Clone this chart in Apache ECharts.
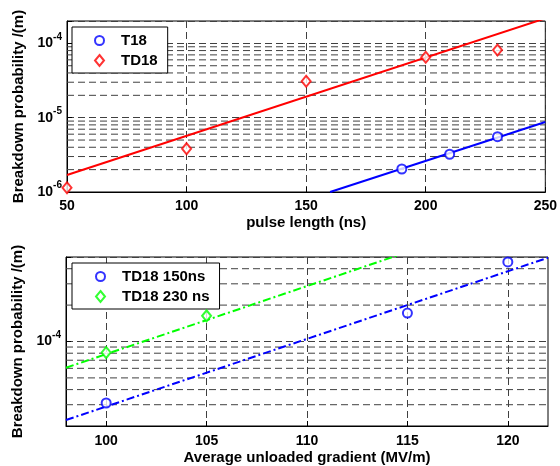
<!DOCTYPE html>
<html>
<head>
<meta charset="utf-8">
<title>Breakdown probability</title>
<style>
html, body { margin: 0; padding: 0; background: #fff; }
#chart { width: 560px; height: 466px; }
</style>
</head>
<body>
<div id="chart"></div>
<script src="https://cdn.jsdelivr.net/npm/echarts@6/dist/echarts.min.js"></script>
<script>
// top panel: breakdown probability vs pulse length
var t18X = [190, 210, 230];
var t18Y = [2.04e-6, 3.22e-6, 5.55e-6];
var td18X = [50, 100, 150, 200, 230];
var td18Y = [1.14e-6, 3.83e-6, 3.09e-5, 6.5e-5, 8.15e-5];
var t18FitX = [160, 250];
var t18FitY = [1.0e-6, 8.75e-6];
var td18FitX = [50, 250];
var td18FitY = [1.69e-6, 2.17e-4];
var topMinorGrid = [2e-6, 3e-6, 4e-6, 5e-6, 6e-6, 7e-6, 8e-6, 9e-6,
                    2e-5, 3e-5, 4e-5, 5e-5, 6e-5, 7e-5, 8e-5, 9e-5];

// bottom panel: breakdown probability vs gradient
var g150X = [100, 115, 120];
var g150Y = [3.1e-5, 1.72e-4, 4.55e-4];
var g230X = [100, 105];
var g230Y = [8.1e-5, 1.63e-4];
var g150FitX = [98, 122];
var g150FitY = [2.24e-5, 4.93e-4];
var g230FitX = [98, 122];
var g230FitY = [6.07e-5, 1.36e-3];
var gradTicks = [100, 105, 110, 115, 120];
var bottomMinorGrid = [3e-5, 4e-5, 5e-5, 6e-5, 7e-5, 8e-5, 9e-5, 2e-4, 3e-4, 4e-4];

function pairs(xs, ys) {
	return xs.map(function (x, i) { return [x, ys[i]]; });
}

var FONT = 'Liberation Sans';
var gridLine = { color: '#404040', width: 1, type: [7, 4] };

function decadeLabel(v) {
	var l = Math.log10(v);
	var e = Math.round(l);
	if (Math.abs(l - e) > 1e-6) return '';
	return '{b|10}{s|' + e + '}';
}

var yLabel = {
	formatter: decadeLabel,
	margin: 5,
	color: '#000',
	rich: {
		b: { fontSize: 14, fontWeight: 'bold', fontFamily: FONT, color: '#000' },
		s: { fontSize: 10, fontWeight: 'bold', fontFamily: FONT, color: '#000', padding: [0, 0, 13, 0] }
	}
};
var tickFont = { fontSize: 14, fontWeight: 'bold', fontFamily: FONT, color: '#000' };
var nameFont = { fontSize: 15, fontWeight: 'bold', fontFamily: FONT, color: '#000' };
var legendFont = Object.assign({ padding: [0, 0, 0, 12] }, nameFont);

// horizontal minor grid of the log axes, one dashed line per value
function minorGridSeries(vals, axisIdx, x0, x1) {
	return vals.map(function (v) {
		return {
			type: 'line', xAxisIndex: axisIdx, yAxisIndex: axisIdx,
			data: [[x0, v], [x1, v]],
			showSymbol: false, silent: true, z: 1,
			lineStyle: gridLine,
			emphasis: { disabled: true }
		};
	});
}

var myChart = echarts.init(document.getElementById('chart'), null, { renderer: 'canvas' });

var series = [
	// top panel
	{ name: 'T18 fit', type: 'line', xAxisIndex: 0, yAxisIndex: 0, data: pairs(t18FitX, t18FitY),
	  showSymbol: false, lineStyle: { color: '#0000ff', width: 2 }, z: 3 },
	{ name: 'TD18 fit', type: 'line', xAxisIndex: 0, yAxisIndex: 0, data: pairs(td18FitX, td18FitY),
	  showSymbol: false, lineStyle: { color: '#ff0000', width: 2 }, z: 3 },
	{ name: 'T18', type: 'scatter', xAxisIndex: 0, yAxisIndex: 0, data: pairs(t18X, t18Y),
	  symbol: 'emptyCircle', symbolSize: 9, itemStyle: { color: '#0000ff' }, z: 4 },
	{ name: 'TD18', type: 'scatter', xAxisIndex: 0, yAxisIndex: 0, data: pairs(td18X, td18Y),
	  symbol: 'emptyDiamond', symbolSize: [9, 11], itemStyle: { color: '#ff0000' }, z: 4 },

	// bottom panel
	{ name: '150 fit', type: 'line', xAxisIndex: 1, yAxisIndex: 1, data: pairs(g150FitX, g150FitY),
	  showSymbol: false, lineStyle: { color: '#0000ff', width: 2, type: [8, 3, 2, 3] }, z: 3 },
	{ name: '230 fit', type: 'line', xAxisIndex: 1, yAxisIndex: 1, data: pairs(g230FitX, g230FitY),
	  showSymbol: false, lineStyle: { color: '#00ff00', width: 2, type: [8, 3, 2, 3] }, z: 3 },
	{ name: 'TD18 150ns', type: 'scatter', xAxisIndex: 1, yAxisIndex: 1, data: pairs(g150X, g150Y),
	  symbol: 'emptyCircle', symbolSize: 9, itemStyle: { color: '#0000ff' }, z: 4 },
	{ name: 'TD18 230 ns', type: 'scatter', xAxisIndex: 1, yAxisIndex: 1, data: pairs(g230X, g230Y),
	  symbol: 'emptyDiamond', symbolSize: [9, 11], itemStyle: { color: '#00ff00' }, z: 4 }
].concat(minorGridSeries(topMinorGrid, 0, 50, 250), minorGridSeries(bottomMinorGrid, 1, 98, 122));

var option = {
	backgroundColor: '#fff',
	animation: false,
	grid: [
		{ left: 67, top: 21, right: 12, height: 171, show: true, borderColor: '#000', borderWidth: 1 },
		{ left: 66, top: 257, right: 12, height: 171, show: true, borderColor: '#000', borderWidth: 1 }
	],
	legend: [{
		data: ['T18', 'TD18'],
		left: 72, top: 27,
		orient: 'vertical',
		backgroundColor: '#fff',
		borderColor: '#000', borderWidth: 1,
		padding: [6, 10, 5, 22],
		itemWidth: 9, itemHeight: 11, itemGap: 5,
		textStyle: legendFont
	}, {
		data: ['TD18 150ns', 'TD18 230 ns'],
		left: 72, top: 263,
		orient: 'vertical',
		backgroundColor: '#fff',
		borderColor: '#000', borderWidth: 1,
		padding: [6, 10, 5, 23],
		itemWidth: 9, itemHeight: 11, itemGap: 5,
		textStyle: legendFont
	}],
	xAxis: [{
		gridIndex: 0, type: 'value', min: 50, max: 250, interval: 50,
		name: 'pulse length (ns)', nameLocation: 'middle', nameGap: 23, nameTextStyle: nameFont,
		axisLine: { lineStyle: { color: '#000' } },
		axisTick: { inside: true, length: 5, lineStyle: { color: '#000' } },
		axisLabel: Object.assign({ margin: 7 }, tickFont),
		splitLine: { show: true, lineStyle: gridLine }
	}, {
		gridIndex: 1, type: 'value', min: 98, max: 122,
		name: 'Average unloaded gradient (MV/m)', nameLocation: 'middle', nameGap: 24, nameTextStyle: nameFont,
		axisLine: { lineStyle: { color: '#000' } },
		axisTick: { inside: true, length: 5, customValues: gradTicks, lineStyle: { color: '#000' } },
		axisLabel: Object.assign({ margin: 8, customValues: gradTicks }, tickFont),
		splitLine: { show: true, lineStyle: gridLine }
	}],
	yAxis: [{
		gridIndex: 0, type: 'log', logBase: 10, min: 1e-6, max: 2e-4,
		name: 'Breakdown probability /(m)', nameLocation: 'middle', nameGap: 40, nameTextStyle: nameFont,
		axisLine: { lineStyle: { color: '#000' } },
		axisTick: { inside: true, length: 5, lineStyle: { color: '#000' } },
		axisLabel: yLabel,
		splitLine: { show: true, lineStyle: gridLine }
	}, {
		gridIndex: 1, type: 'log', logBase: 10, min: 2e-5, max: 5e-4,
		name: 'Breakdown probability /(m)', nameLocation: 'middle', nameGap: 40, nameTextStyle: nameFont,
		axisLine: { lineStyle: { color: '#000' } },
		axisTick: { inside: true, length: 5, lineStyle: { color: '#000' } },
		axisLabel: yLabel,
		splitLine: { show: true, lineStyle: gridLine }
	}],
	series: series
};

myChart.setOption(option);
</script>
</body>
</html>
